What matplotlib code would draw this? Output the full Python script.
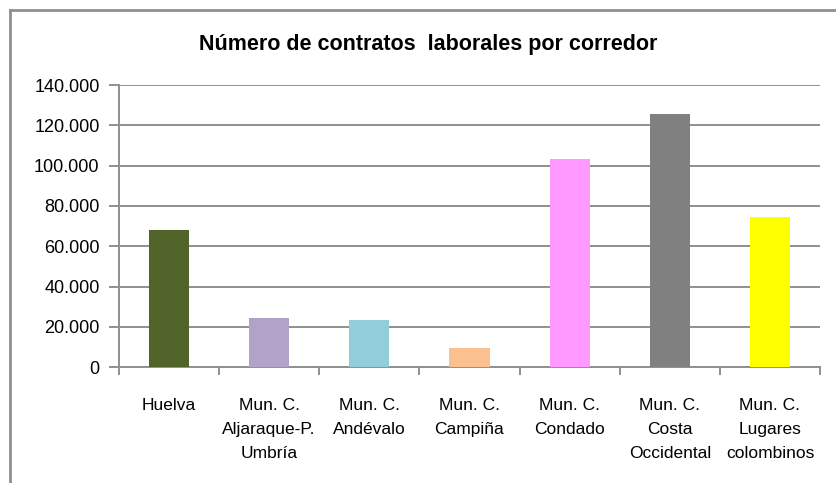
import matplotlib
matplotlib.use('Agg')
import matplotlib.pyplot as plt
import matplotlib.ticker as ticker
from matplotlib.lines import Line2D

categories = ['Huelva', 'Mun. C.\nAljaraque-P.\nUmbría', 'Mun. C.\nAndévalo',
              'Mun. C.\nCampiña', 'Mun. C.\nCondado', 'Mun. C.\nCosta\nOccidental',
              'Mun. C.\nLugares\ncolombinos']
contratos = [68000, 24500, 23500, 9800, 103300, 125600, 74500]
colores = ['#506328', '#b2a2c7', '#92cddc', '#fac090', '#ff99ff', '#808080', '#ffff00']
yticks = [0, 20000, 40000, 60000, 80000, 100000, 120000, 140000]


def miles(x, pos):
    'Formato con punto de miles'
    return '{:,.0f}'.format(x).replace(',', '.')


def main():
    plt.rcParams['font.family'] = ['Liberation Sans', 'DejaVu Sans']
    fig = plt.figure(figsize=(8.36, 4.83), dpi=100)
    ax = fig.add_axes([0.1423, 0.2395, 0.8386, 0.5845])
    grey = '#8f8f8f'

    x = list(range(len(categories)))
    ax.bar(x, contratos, width=0.4, color=colores, zorder=3)
    ax.set_xlim(-0.5, len(categories) - 0.5)
    ax.set_ylim(0, 140000)
    ax.set_yticks(yticks)
    ax.yaxis.set_major_formatter(ticker.FuncFormatter(miles))
    ax.grid(axis='y', color=grey, linewidth=1.4, zorder=0)

    ax.set_xticks(x)
    ax.set_xticklabels(categories, fontsize=12.5, linespacing=1.75)
    ax.set_xticks([i - 0.5 for i in range(len(categories) + 1)], minor=True)
    ax.tick_params(axis='x', which='major', length=0, pad=22)
    ax.tick_params(axis='x', which='minor', length=6, width=1.4, color=grey)
    ax.tick_params(axis='y', length=7, width=1.4, color=grey, labelsize=13, pad=7)

    for side in ['top', 'right']:
        ax.spines[side].set_visible(False)
    for side in ['left', 'bottom']:
        ax.spines[side].set_color(grey)
        ax.spines[side].set_linewidth(1.4)

    fig.text(0.512, 0.907, 'Número de contratos  laborales por corredor',
             ha='center', va='center', fontsize=15.5, fontweight='bold')

    # marco del grafico
    fig.add_artist(Line2D([0.0115, 0.0115], [0, 0.979], color=grey, linewidth=2,
                          transform=fig.transFigure))
    fig.add_artist(Line2D([0.0115, 1], [0.979, 0.979], color=grey, linewidth=2,
                          transform=fig.transFigure))

    fig.savefig('out.png', dpi=100)


if __name__ == '__main__':
    main()
